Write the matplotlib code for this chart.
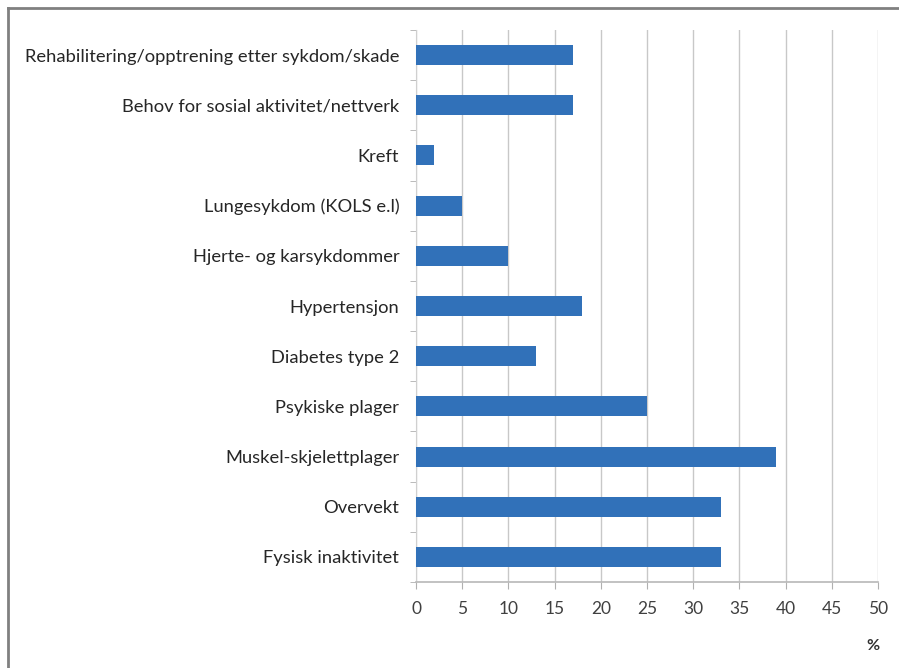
import matplotlib
matplotlib.use("Agg")
import matplotlib.pyplot as plt
from matplotlib.lines import Line2D
import numpy as np

categories = [
    "Fysisk inaktivitet",
    "Overvekt",
    "Muskel-skjelettplager",
    "Psykiske plager",
    "Diabetes type 2",
    "Hypertensjon",
    "Hjerte- og karsykdommer",
    "Lungesykdom (KOLS e.l)",
    "Kreft",
    "Behov for sosial aktivitet/nettverk",
    "Rehabilitering/opptrening etter sykdom/skade",
]
values = [33, 33, 39, 25, 13, 18, 10, 5, 2, 17, 17]
xticks = [0, 5, 10, 15, 20, 25, 30, 35, 40, 45, 50]

plt.rcParams['font.family'] = ['Lato', 'DejaVu Sans']

W, H = 899, 668
fig = plt.figure(figsize=(W / 100, H / 100), dpi=100)
ax = fig.add_axes([416 / W, 1 - 582 / H, (878 - 416) / W, (582 - 30) / H])

y = np.arange(len(categories))
ax.barh(y, values, height=0.4, color="#3171b9", zorder=3)
ax.set_xlim(0, 50)
ax.set_ylim(-0.5, len(categories) - 0.5)
ax.set_xticks(xticks)
ax.set_xticklabels([str(t) for t in xticks], fontsize=12.5, color="#404040")
ax.set_yticks(y)
ax.set_yticklabels(categories, fontsize=13.2, color="#262626")
ax.set_yticks(np.arange(-0.5, len(categories), 1), minor=True)
ax.tick_params(axis='y', which='major', length=0, pad=12)
ax.tick_params(axis='y', which='minor', length=4, color="#b0b0b0", direction='out')
ax.tick_params(axis='x', length=5, color="#b0b0b0", pad=9)
ax.grid(axis='x', color="#c8c8c8", linewidth=1, zorder=0)
for s in ['top', 'right']:
    ax.spines[s].set_visible(False)
ax.spines['left'].set_color("#d0d0d0")
ax.spines['bottom'].set_color("#b8b8b8")
ax.spines['bottom'].set_linewidth(1.2)

fig.text(873 / W, 1 - 646 / H, "%", fontsize=11.5, fontweight='bold',
         color="#303030", ha='center', va='center')

# outer frame (top and left)
fig.add_artist(Line2D([8 / W, 8 / W], [0, 1 - 8 / H], transform=fig.transFigure,
                      color="#808080", linewidth=2))
fig.add_artist(Line2D([8 / W, 1], [1 - 8 / H, 1 - 8 / H], transform=fig.transFigure,
                      color="#808080", linewidth=2))

fig.savefig("out.png", dpi=100, facecolor="white")
